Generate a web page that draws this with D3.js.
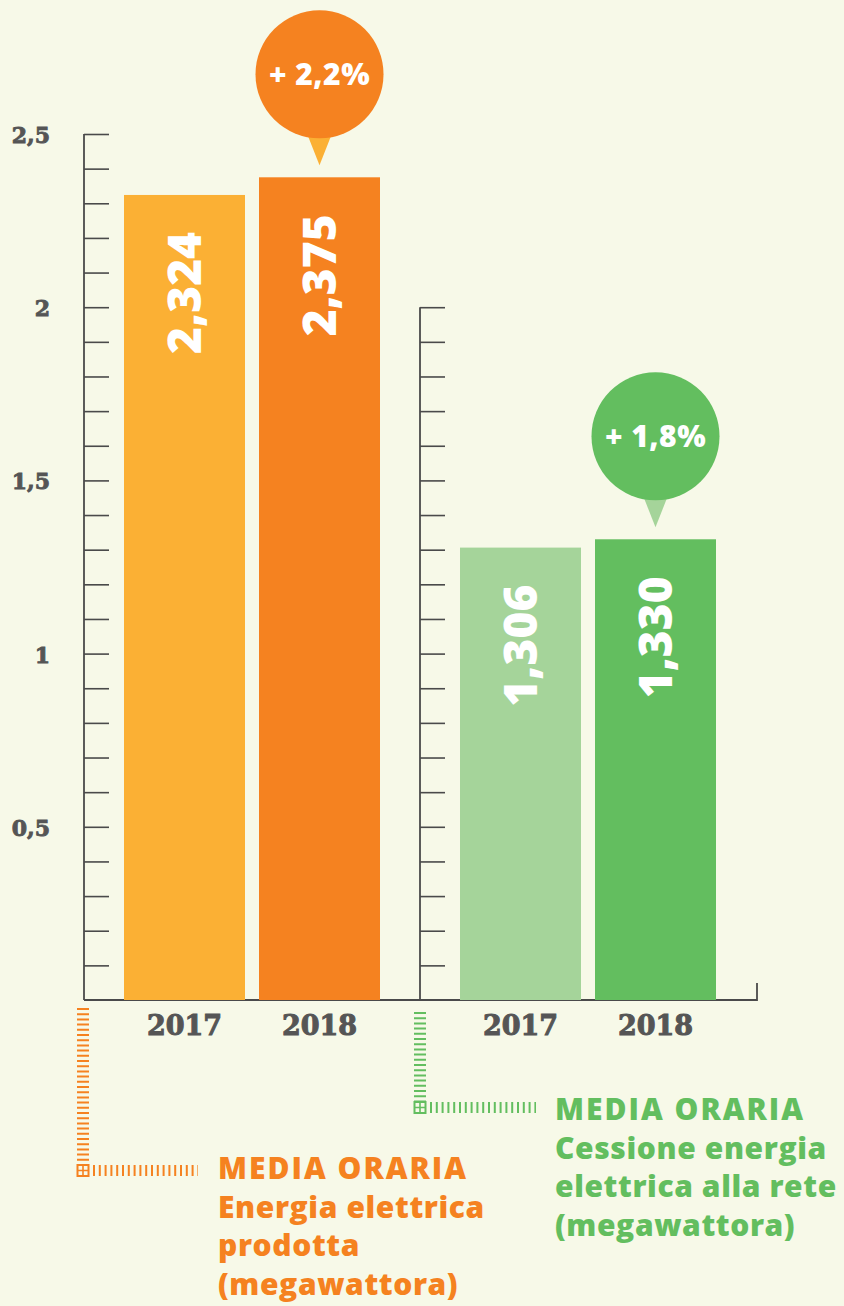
<!DOCTYPE html>
<html>
<head>
<meta charset="utf-8">
<script src="https://cdn.jsdelivr.net/npm/d3@7"></script>
<style>
  body { margin: 0; background: #f7f9e8; }
  svg { display: block; }
</style>
</head>
<body>
<div id="chart"></div>
<script>
// data
var groups = ["prodotta", "cessione"];
var years = ["2017", "2018"];
var valuesProdotta = [2.324, 2.375];
var valuesCessione = [1.306, 1.330];
var labelsProdotta = ["2,324", "2,375"];
var labelsCessione = ["1,306", "1,330"];
var changes = ["+ 2,2%", "+ 1,8%"];
var yTicks = [0.5, 1, 1.5, 2, 2.5];
var axisMax = [2.5, 2];
var legendLines = [
  ["MEDIA ORARIA", "Energia elettrica", "prodotta", "(megawattora)"],
  ["MEDIA ORARIA", "Cessione energia", "elettrica alla rete", "(megawattora)"]
];

var darkCol = ["#fbb034", "#a5d49a"];
var mainCol = ["#f58220", "#63be5f"];
var axisCol = "#4a4a4a";

var W = 844, H = 1306;
var svg = d3.select("#chart").append("svg")
  .attr("width", W).attr("height", H);
svg.append("rect").attr("width", W).attr("height", H).attr("fill", "#f7f9e8");

var y = d3.scaleLinear().domain([0, 2.5]).range([1000, 134]);

var gx = d3.scaleBand().domain(groups).range([124, 716]).paddingInner(80 / 336);
var bx = d3.scaleBand().domain(years).range([0, gx.bandwidth()]).paddingInner(14 / 135);

var data = groups.map(function(g, i) {
  var vals = i == 0 ? valuesProdotta : valuesCessione;
  var labs = i == 0 ? labelsProdotta : labelsCessione;
  return years.map(function(yr, j) {
    return {group: g, gi: i, year: yr, yi: j, value: vals[j], label: labs[j]};
  });
});

// axes with a tick every 0.1
groups.forEach(function(g, i) {
  var ticks = d3.range(1, Math.round(axisMax[i] * 10) + 1).map(function(k) { return k / 10; });
  var ax = svg.append("g")
    .attr("transform", "translate(" + (gx(g) - 40) + ",0)")
    .call(d3.axisRight(y).tickValues(ticks).tickSize(25).tickFormat(""));
  ax.select(".domain").remove();
  ax.selectAll(".tick line").attr("stroke", axisCol).attr("stroke-width", 1.6);
  ax.append("line")
    .attr("x1", 0).attr("x2", 0)
    .attr("y1", y(axisMax[i])).attr("y2", y(0))
    .attr("stroke", axisCol).attr("stroke-width", 1.8);
});

// y labels (left only)
svg.append("g").selectAll("text")
  .data(yTicks)
  .enter().append("text")
  .attr("x", 50)
  .attr("y", function(d) { return y(d) + 9; })
  .attr("text-anchor", "end")
  .attr("font-family", "DejaVu Serif")
  .attr("font-weight", "bold")
  .attr("font-size", 22)
  .attr("fill", "#555")
  .attr("stroke", "#555").attr("stroke-width", 0.9)
  .text(function(d) { return String(d).replace(".", ","); });

// baseline
var xEnd = 757;
svg.append("path")
  .attr("d", "M" + (gx(groups[0]) - 40) + "," + y(0) + "H" + xEnd + "V" + (y(0) - 17))
  .attr("fill", "none")
  .attr("stroke", axisCol)
  .attr("stroke-width", 1.8);

// bars
var bars = svg.selectAll(".grp")
  .data(data)
  .enter().append("g")
  .attr("class", "grp")
  .attr("transform", function(d, i) { return "translate(" + gx(groups[i]) + ",0)"; });

bars.selectAll("rect")
  .data(function(d) { return d; })
  .enter().append("rect")
  .attr("x", function(d) { return bx(d.year); })
  .attr("y", function(d) { return y(d.value); })
  .attr("width", bx.bandwidth())
  .attr("height", function(d) { return y(0) - y(d.value); })
  .attr("fill", function(d) { return d.yi == 0 ? darkCol[d.gi] : mainCol[d.gi]; });

bars.selectAll(".val")
  .data(function(d) { return d; })
  .enter().append("text")
  .attr("class", "val")
  .attr("transform", function(d) {
    return "translate(" + (bx(d.year) + bx.bandwidth() / 2 + 16) + "," + (y(d.value) + 37) + ") rotate(-90)";
  })
  .attr("text-anchor", "end")
  .attr("font-family", "Open Sans")
  .attr("font-weight", 800)
  .attr("font-size", 46)
  .attr("fill", "#fff")
  .text(function(d) { return d.label; });

// year labels
bars.selectAll(".yr")
  .data(function(d) { return d; })
  .enter().append("text")
  .attr("class", "yr")
  .attr("x", function(d) { return bx(d.year) + bx.bandwidth() / 2; })
  .attr("y", y(0) + 35)
  .attr("text-anchor", "middle")
  .attr("font-family", "DejaVu Serif")
  .attr("font-weight", "bold")
  .attr("font-size", 27)
  .attr("fill", "#555")
  .attr("stroke", "#555").attr("stroke-width", 1)
  .text(function(d) { return d.year; });

// change bubbles above the 2018 bars
data.forEach(function(d, i) {
  var last = d[1];
  var cx = gx(groups[i]) + bx(last.year) + bx.bandwidth() / 2;
  var tip = y(last.value) - 12;
  var r = 64;
  var cy = tip - 27 - r;
  svg.append("path")
    .attr("d", "M" + (cx - 13) + "," + (cy + r - 6) + "L" + (cx + 13) + "," + (cy + r - 6) + "L" + cx + "," + tip + "Z")
    .attr("fill", darkCol[i]);
  svg.append("circle")
    .attr("cx", cx).attr("cy", cy).attr("r", r)
    .attr("fill", mainCol[i]);
  svg.append("text")
    .attr("x", cx).attr("y", cy + 11)
    .attr("text-anchor", "middle")
    .attr("font-family", "Open Sans")
    .attr("font-weight", 800)
    .attr("font-size", 30)
    .attr("letter-spacing", 0.5)
    .attr("fill", "#fff")
    .text(changes[i]);
});

// ladder connectors and legends
var legendPos = [
  {vx: 83, vy0: 1008, vy1: 1164, hx1: 198, tx: 218, ty: 1179},
  {vx: 420, vy0: 1012, vy1: 1101, hx1: 536, tx: 555, ty: 1120}
];
legendPos.forEach(function(p, i) {
  var g = svg.append("g");
  g.append("line")
    .attr("x1", p.vx).attr("x2", p.vx)
    .attr("y1", p.vy0).attr("y2", p.vy1)
    .attr("stroke", mainCol[i]).attr("stroke-width", 12)
    .attr("stroke-dasharray", "2,3.2");
  g.append("rect")
    .attr("x", p.vx - 5.5).attr("y", p.vy1 + 1)
    .attr("width", 11).attr("height", 11)
    .attr("fill", "none").attr("stroke", mainCol[i]).attr("stroke-width", 2);
  g.append("path")
    .attr("d", "M" + (p.vx - 5.5) + "," + (p.vy1 + 6.5) + "h11M" + p.vx + "," + (p.vy1 + 1) + "v11")
    .attr("stroke", mainCol[i]).attr("stroke-width", 1.6);
  g.append("line")
    .attr("x1", p.vx + 10).attr("x2", p.hx1)
    .attr("y1", p.vy1 + 6.5).attr("y2", p.vy1 + 6.5)
    .attr("stroke", mainCol[i]).attr("stroke-width", 11)
    .attr("stroke-dasharray", "2,3.8");

  g.selectAll("text")
    .data(legendLines[i])
    .enter().append("text")
    .attr("x", p.tx)
    .attr("y", function(d, k) { return p.ty + k * 38.5; })
    .attr("font-family", "Open Sans")
    .attr("font-weight", 800)
    .attr("font-size", 30)
    .attr("letter-spacing", function(d, k) { return k == 0 ? 2 : 0.6; })
    .attr("fill", mainCol[i])
    .text(function(d) { return d; });
});
</script>
</body>
</html>
